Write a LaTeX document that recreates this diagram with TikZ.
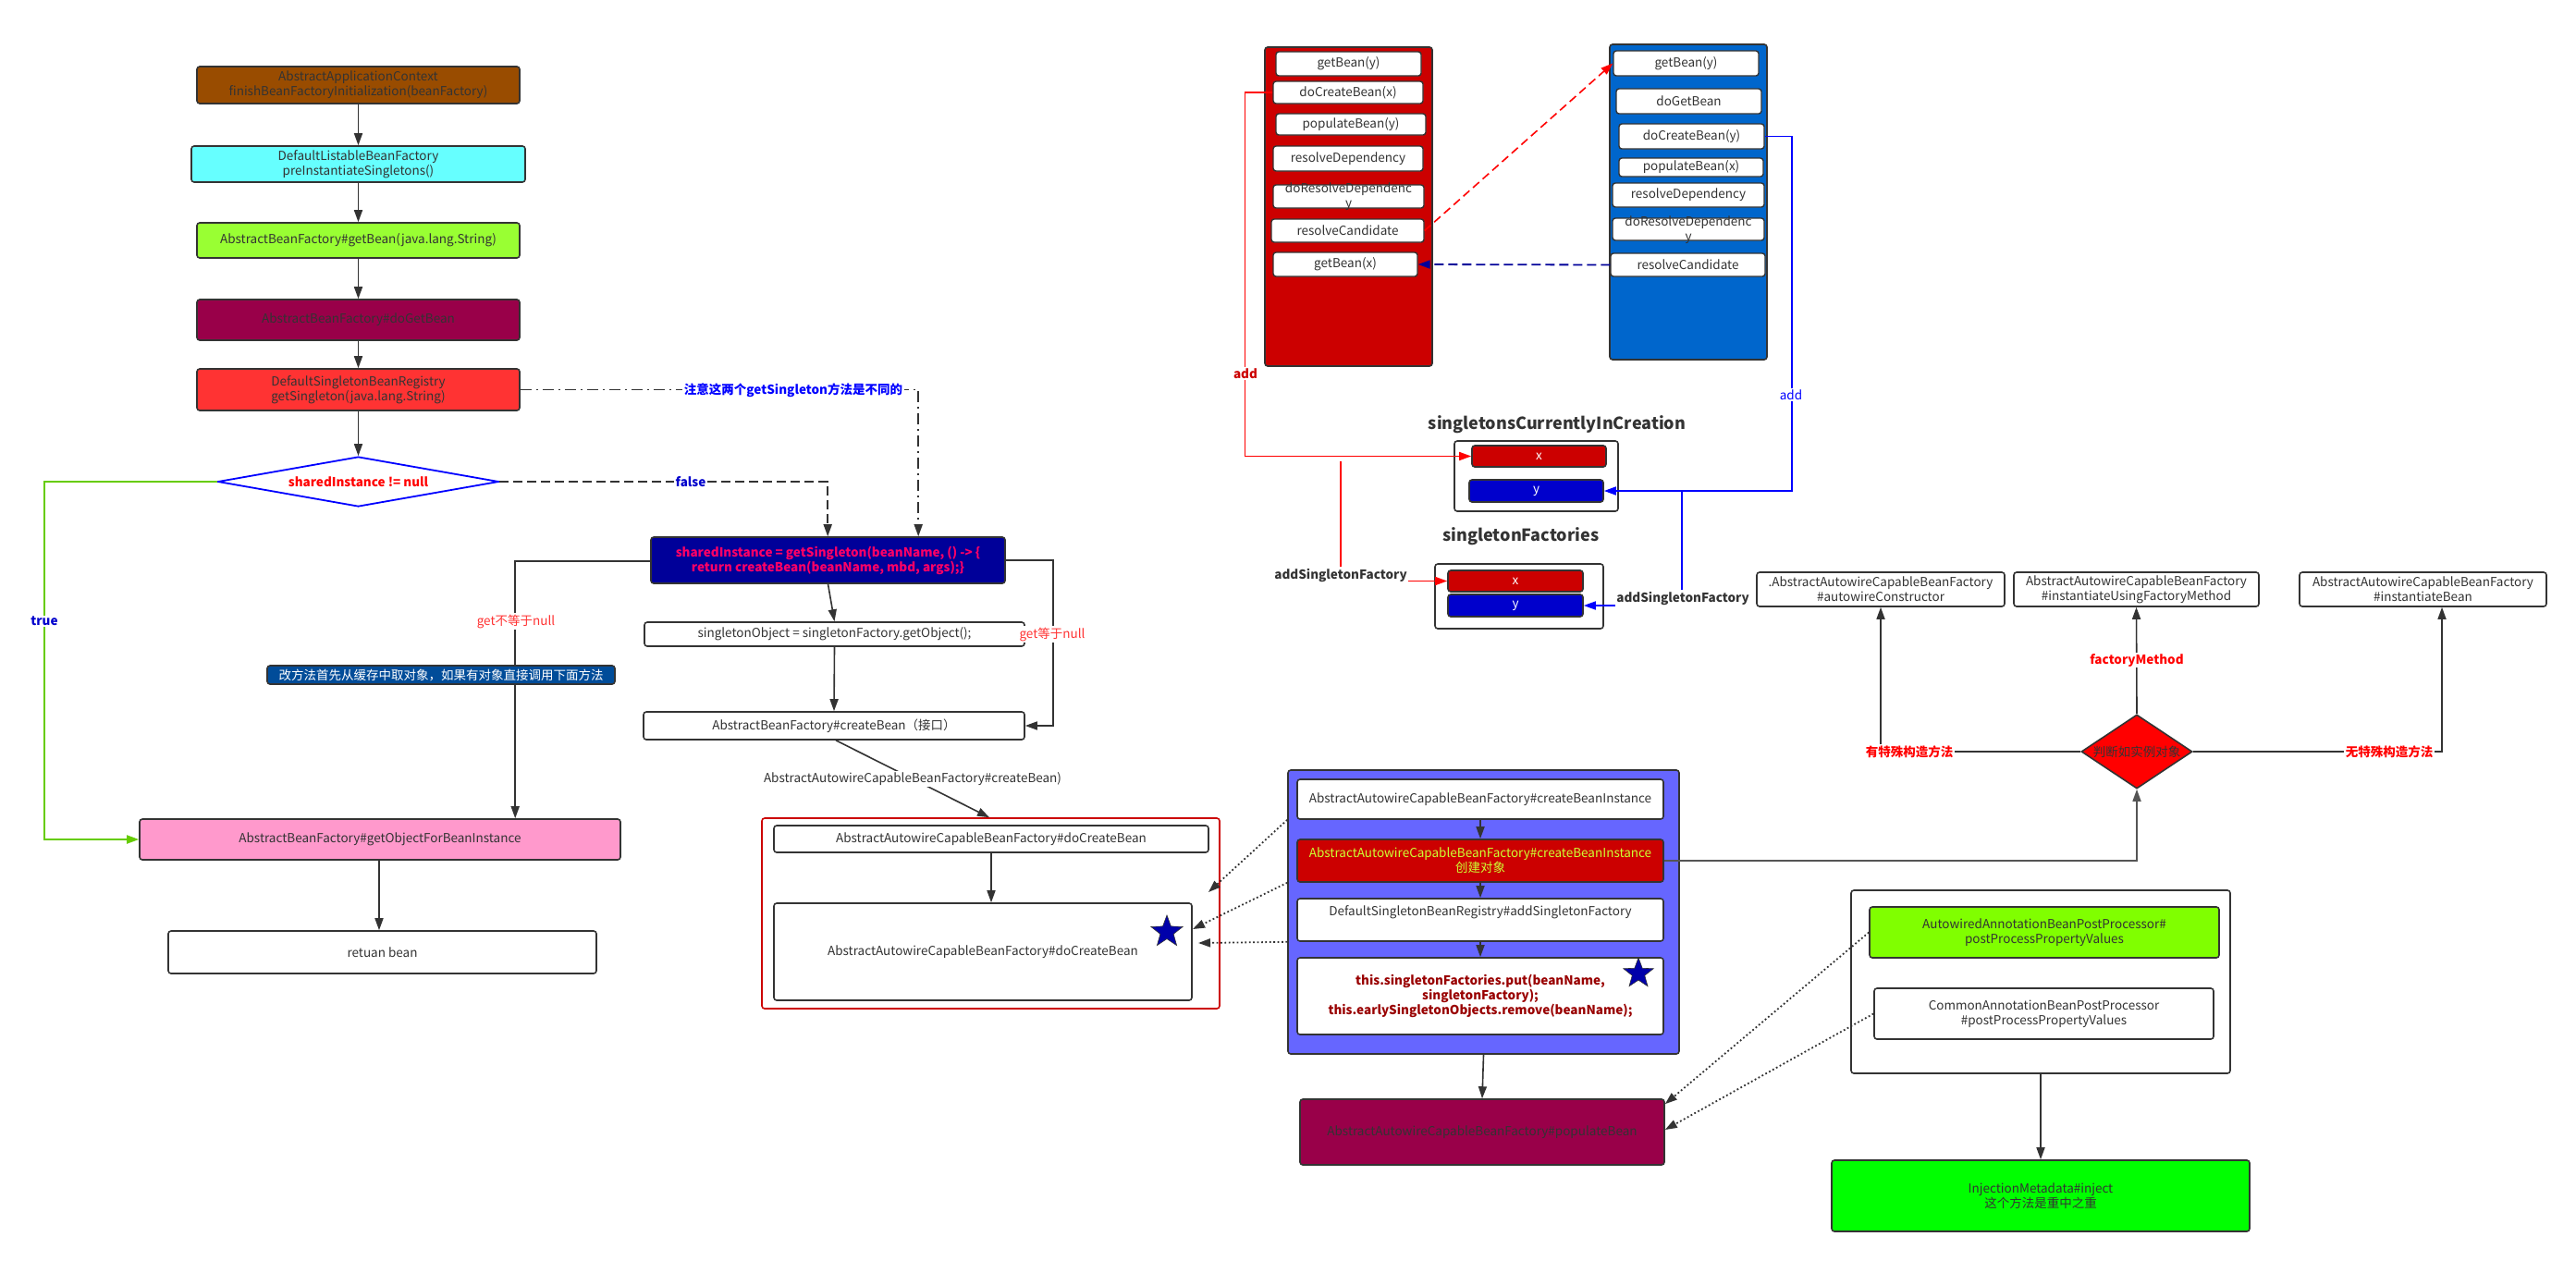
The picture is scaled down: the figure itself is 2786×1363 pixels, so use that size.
\documentclass[tikz,border=0pt]{standalone}
\usepackage{fontspec}
\setmainfont{Noto Sans CJK SC}
\usetikzlibrary{arrows.meta,shapes.geometric}
\definecolor{bd}{HTML}{333333}
\definecolor{cA1}{HTML}{994C00}
\definecolor{cA2}{HTML}{66FFFF}
\definecolor{cA3}{HTML}{99FF33}
\definecolor{cMar}{HTML}{990049}
\definecolor{cA5}{HTML}{FF3333}
\definecolor{cB1}{HTML}{000099}
\definecolor{cPT}{HTML}{FF0066}
\definecolor{cNote}{HTML}{004C99}
\definecolor{cPink}{HTML}{FF99CC}
\definecolor{cRed}{HTML}{CC0000}
\definecolor{cBC}{HTML}{6666FF}
\definecolor{cC2t}{HTML}{CCFF33}
\definecolor{cC4t}{HTML}{990000}
\definecolor{cAW}{HTML}{80FF00}
\definecolor{cIM}{HTML}{00FF00}
\definecolor{cD2}{HTML}{FF0000}
\definecolor{cBS}{HTML}{0066CC}
\definecolor{cY}{HTML}{0000CC}
\definecolor{cGreen}{HTML}{66CC00}
\definecolor{cDB}{HTML}{0000FF}
\definecolor{cLR}{HTML}{FF0000}
\definecolor{cStar}{HTML}{0000AA}
\definecolor{cNavy}{HTML}{000099}
\definecolor{cGrey}{HTML}{555555}
\newcommand{\fsn}{\fontsize{13.5}{16}\selectfont}
\newcommand{\fsb}{\fontsize{13.5}{16}\selectfont\bfseries}
\newcommand{\fst}{\fontsize{18}{22}\selectfont\bfseries}
\tikzset{
  box/.style={draw=bd, line width=1.6pt, rounded corners=3pt, inner sep=0pt, align=center, font=\fsn, text=bd},
  txt/.style={inner sep=0pt, align=center, font=\fsn, text=bd},
  lbl/.style={inner sep=1.5pt, fill=white, align=center, font=\fsb},
  arr/.style={draw=bd, line width=1.6pt, -{Triangle[length=13pt,width=9pt]}},
  dotarr/.style={draw=bd, line width=1.8pt, dash pattern=on 1.8pt off 2.6pt, -{Triangle[length=13pt,width=9pt]}},
  starnode/.style={star, star points=5, star point ratio=2.4, fill=cStar, draw=bd, line width=0.6pt, minimum size=36pt, inner sep=0pt},
}
\begin{document}
\begin{tikzpicture}[x=1pt,y=-1pt]
\useasboundingbox (0,0) rectangle (2786,1363);
\fill[white] (0,0) rectangle (2786,1363);

% ---------------- left column ----------------
\node[box, fill=cA1, minimum width=349pt, minimum height=40pt] (A1) at (387.5,92) {AbstractApplicationContext\\finishBeanFactoryInitialization(beanFactory)};
\node[box, fill=cA2, minimum width=361pt, minimum height=39pt] (A2) at (387.5,177.5) {DefaultListableBeanFactory\\preInstantiateSingletons()};
\node[box, fill=cA3, minimum width=349pt, minimum height=38pt] (A3) at (387.5,260) {AbstractBeanFactory\#getBean(java.lang.String)};
\node[box, fill=cMar, minimum width=349pt, minimum height=44pt] (A4) at (387.5,346) {AbstractBeanFactory\#doGetBean};
\node[box, fill=cA5, minimum width=349pt, minimum height=45pt] (A5) at (387.5,421.5) {DefaultSingletonBeanRegistry\\getSingleton(java.lang.String)};
\node[diamond, draw=cDB, line width=1.8pt, fill=white, aspect=5.6, minimum width=304pt, minimum height=54pt, inner sep=0pt] (D1) at (387.5,521) {};
\node[txt, font=\fsb, text=cLR] (D1t) at (D1) {sharedInstance != null};

\node[box, fill=cB1, text=cPT, font=\fsb, minimum width=383pt, minimum height=50pt] (B1) at (895.5,606) {sharedInstance = getSingleton(beanName, () -> \{\\return createBean(beanName, mbd, args);\}};
\node[box, fill=cPink, minimum width=520pt, minimum height=44pt] (P) at (411,908) {AbstractBeanFactory\#getObjectForBeanInstance};
\node[box, fill=white, minimum width=463pt, minimum height=46pt] (RB) at (413.5,1030) {retuan bean};
\node[box, fill=white, minimum width=411pt, minimum height=26pt] (S1) at (902.5,686) {singletonObject = singletonFactory.getObject();};
\node[box, fill=white, minimum width=412pt, minimum height=30pt] (CB) at (902,785) {AbstractBeanFactory\#createBean（接口）};

\node[box, draw=cRed, line width=1.6pt, fill=white, minimum width=495pt, minimum height=206pt] (R) at (1071.5,988) {};
\node[box, fill=white, minimum width=470pt, minimum height=29pt] (DC1) at (1072,907.5) {AbstractAutowireCapableBeanFactory\#doCreateBean};
\node[box, fill=white, minimum width=452pt, minimum height=105pt] (DC2) at (1063,1029.5) {AbstractAutowireCapableBeanFactory\#doCreateBean};
\node[starnode] (ST1) at (1262,1008) {};

% left connectors
\draw[arr] (A1) -- (A2);
\draw[arr] (A2) -- (A3);
\draw[arr] (A3) -- (A4);
\draw[arr] (A4) -- (A5);
\draw[arr] (A5) -- (D1.north);
\draw[draw=cGreen, line width=1.8pt, -{Triangle[length=13pt,width=9pt]}] (D1.west) -- (48,521) |- (P.west);
\node[lbl, text=cY] (Ltrue) at (48,672) {true};
\draw[draw=bd, line width=1.6pt, dash pattern=on 10pt off 5pt, -{Triangle[length=13pt,width=9pt]}] (D1.east) -| ([xshift=192pt]B1.north west);
\node[lbl, text=cY] (Lfalse) at (747,521) {false};
\draw[draw=bd, line width=1.6pt, dash pattern=on 12pt off 5pt on 2pt off 5pt, -{Triangle[length=13pt,width=9pt]}] (A5.east) -| ([xshift=290pt]B1.north west);
\node[lbl, text=cDB] (Lnote) at (858,422) {注意这两个getSingleton方法是不同的};
\draw[arr] ([yshift=-1pt]B1.west) -| ([xshift=407pt]P.north west);
\node[lbl, font=\fsn, text=cA5] (Lneq) at (558,672) {get不等于null};
\node[box, fill=cNote, text=white, minimum width=376pt, minimum height=20pt] (N1) at (477,730) {改方法首先从缓存中取对象，如果有对象直接调用下面方法};
\draw[arr] (B1.east) -- ++(51,0) |- (CB.east);
\node[lbl, font=\fsn, text=cA5] (Leq) at (1138,686) {get等于null};
\draw[arr] (B1.south) -- (S1.north);
\draw[arr] (S1.south) -- (CB.north);
\draw[arr] ([xshift=2pt]CB.south) -- ([xshift=-1.5pt]R.north) node[midway, lbl, font=\fsn, text=bd] (Lcb) {AbstractAutowireCapableBeanFactory\#createBean)};
\draw[arr] (DC1.south) -- (DC1.south |- DC2.north);
\draw[arr] ([xshift=-1pt]P.south) -- ([xshift=-1pt]P.south |- RB.north);

% ---------------- middle column ----------------
\node[box, fill=cBC, minimum width=423pt, minimum height=307pt] (BC) at (1604.5,986.5) {};
\node[box, fill=white, minimum width=396pt, minimum height=43pt] (C1) at (1601,864.5) {AbstractAutowireCapableBeanFactory\#createBeanInstance};
\node[box, fill=cRed, text=cC2t, minimum width=396pt, minimum height=46pt] (C2) at (1601,931) {AbstractAutowireCapableBeanFactory\#createBeanInstance\\创建对象};
\node[box, fill=white, minimum width=396pt, minimum height=46pt] (C3) at (1601,995) {};
\node[txt] (C3t) at (1601,987) {DefaultSingletonBeanRegistry\#addSingletonFactory};
\node[box, fill=white, text=cC4t, font=\fsb, minimum width=396pt, minimum height=83pt] (C4) at (1601,1077.5) {this.singletonFactories.put(beanName,\\singletonFactory);\\this.earlySingletonObjects.remove(beanName);};
\node[starnode, minimum size=34pt] (ST2) at (1772,1053) {};
\draw[arr] (C1.south) -- (C2.north);
\draw[arr] (C2.south) -- (C3.north);
\draw[arr] (C3.south) -- (C4.north);
\node[box, fill=cMar, minimum width=394pt, minimum height=71pt] (PB) at (1603,1224.5) {AbstractAutowireCapableBeanFactory\#populateBean};
\draw[arr] (BC.south) -- (PB.north);

\coordinate (T1) at (1307,965);
\coordinate (T2) at (1290,1005);
\coordinate (T3) at (1296,1020);
\draw[dotarr] (BC.west |- C1.south) -- (T1);
\draw[dotarr] (BC.west |- C2.south) -- (T2);
\draw[dotarr] (BC.west |- C3.south) -- (T3);

% ---------------- right-bottom ----------------
\node[box, fill=white, minimum width=410pt, minimum height=198pt] (W) at (2207,1062) {};
\node[box, fill=cAW, minimum width=378pt, minimum height=55pt] (AW) at (2211,1008.5) {AutowiredAnnotationBeanPostProcessor\#\\postProcessPropertyValues};
\node[box, fill=white, minimum width=367pt, minimum height=55pt] (CA) at (2210.5,1096.5) {CommonAnnotationBeanPostProcessor\\\#postProcessPropertyValues};
\node[box, fill=cIM, minimum width=452pt, minimum height=77pt] (IM) at (2207,1293.5) {InjectionMetadata\#inject\\这个方法是重中之重};
\draw[arr] (W.south) -- (IM.north);
\draw[dotarr] (AW.west) -- ([yshift=-6pt]PB.north east);
\draw[dotarr] (CA.west) -- ([yshift=2.5pt]PB.east);

% ---------------- right-middle: instantiation ----------------
\node[box, fill=white, minimum width=268pt, minimum height=37pt] (AC1) at (2034,637.5) {.AbstractAutowireCapableBeanFactory\\\#autowireConstructor};
\node[box, fill=white, minimum width=265pt, minimum height=37pt] (AC2) at (2310.5,637.5) {AbstractAutowireCapableBeanFactory\\\#instantiateUsingFactoryMethod};
\node[box, fill=white, minimum width=267pt, minimum height=37pt] (AC3) at (2620.5,637.5) {AbstractAutowireCapableBeanFactory\\\#instantiateBean};
\node[diamond, draw=bd, line width=1.6pt, fill=cD2, minimum width=120pt, minimum height=80pt, inner sep=0pt] (D2) at (2311,813) {};
\node[txt, text=bd] (D2t) at (D2) {判断如实例对象};
\draw[arr, draw=cGrey] (C2.east) -| (D2.south);
\draw[arr] (D2.west) -| (AC1.south);
\draw[arr] (D2.north) -- (AC2.south);
\draw[arr] (D2.east) -| ([xshift=20.5pt]AC3.south);
\node[lbl, text=cLR] (Lyou) at (2065,813) {有特殊构造方法};
\node[lbl, text=cLR] (Lfm) at (2311,714) {factoryMethod};
\node[lbl, text=cLR] (Lwu) at (2584,813) {无特殊构造方法};

% ---------------- top-right: call stacks ----------------
\tikzset{sitem/.style={box, fill=white, line width=1.4pt}}
\node[box, fill=cRed, minimum width=181pt, minimum height=345pt] (RS) at (1458.5,223.5) {};
\node[sitem, minimum width=157pt, minimum height=26pt] (r1) at (1458.5,69) {getBean(y)};
\node[sitem, minimum width=162pt, minimum height=24pt] (r2) at (1458,100) {doCreateBean(x)};
\node[sitem, minimum width=162pt, minimum height=23pt] (r3) at (1461,134.5) {populateBean(y)};
\node[sitem, minimum width=162pt, minimum height=27pt] (r4) at (1458,171.5) {resolveDependency};
\node[sitem, minimum width=163pt, minimum height=25pt] (r5) at (1458.5,212.5) {};
\node[txt] (r5t) at (1458.5,213) {doResolveDependenc\\y};
\node[sitem, minimum width=165pt, minimum height=25pt] (r6) at (1457.5,249.5) {resolveCandidate};
\node[sitem, minimum width=156pt, minimum height=26pt] (r7) at (1455,286) {getBean(x)};

\node[box, fill=cBS, minimum width=170pt, minimum height=341pt] (BS) at (1826,218.5) {};
\node[sitem, minimum width=157pt, minimum height=27pt] (b1) at (1823.5,68.5) {getBean(y)};
\node[sitem, minimum width=157pt, minimum height=27pt] (b2) at (1826.5,109.5) {doGetBean};
\node[sitem, minimum width=157pt, minimum height=27pt] (b3) at (1829.5,147.5) {doCreateBean(y)};
\node[sitem, minimum width=156pt, minimum height=20pt] (b4) at (1829,181) {populateBean(x)};
\node[sitem, minimum width=164pt, minimum height=26pt] (b5) at (1826,211) {resolveDependency};
\node[sitem, minimum width=164pt, minimum height=24pt] (b6) at (1826,248) {};
\node[txt] (b6t) at (1826,249) {doResolveDependenc\\y};
\node[sitem, minimum width=167pt, minimum height=25pt] (b7) at (1825.5,286.5) {resolveCandidate};

\draw[draw=cLR, line width=1.6pt, dash pattern=on 9pt off 5pt, -{Triangle[length=13pt,width=9pt]}] (r6.east) -- (b1.west);
\draw[draw=cNavy, line width=1.8pt, dash pattern=on 10pt off 5pt, -{Triangle[length=13pt,width=9pt]}] (b7.west) -- (r7.east);

% sets
\node[txt, font=\fst] (T1t) at (1684,459) {singletonsCurrentlyInCreation};
\node[box, fill=white, minimum width=177pt, minimum height=76pt] (SC) at (1661.5,515) {};
\node[box, fill=cRed, text=white, minimum width=145pt, minimum height=23pt] (scx) at (1664.5,493.5) {x};
\node[box, fill=cY, text=white, minimum width=145pt, minimum height=24pt] (scy) at (1661.5,531) {y};
\node[txt, font=\fst] (T2t) at (1645,580) {singletonFactories};
\node[box, fill=white, minimum width=182pt, minimum height=70pt] (SF) at (1643,645) {};
\node[box, fill=cRed, text=white, minimum width=146pt, minimum height=23pt] (sfx) at (1639,628.5) {x};
\node[box, fill=cY, text=white, minimum width=146pt, minimum height=24pt] (sfy) at (1639,655) {y};

\draw[draw=cLR, line width=1.6pt, -{Triangle[length=13pt,width=9pt]}] (r2.west) -- ++(-30,0) |- (scx.west);
\node[lbl, text=cRed] (Ladd1) at (1347,404) {add};
\draw[draw=cDB, line width=1.6pt, -{Triangle[length=13pt,width=9pt]}] (b3.east) -- ++(29,0) |- (scy.east);
\node[lbl, font=\fsn, text=cDB] (Ladd2) at (1937,427) {add};
\coordinate (RJ) at (1450,499);
\draw[draw=cLR, line width=1.6pt, -{Triangle[length=13pt,width=9pt]}] (RJ) |- (sfx.west);
\node[lbl, text=bd] (Lasf1) at (1450,622) {addSingletonFactory};
\coordinate (BJ) at (1819,531);
\draw[draw=cDB, line width=1.6pt, -{Triangle[length=13pt,width=9pt]}] (BJ) |- (sfy.east);
\node[lbl, text=bd] (Lasf2) at (1820,647) {addSingletonFactory};
\end{tikzpicture}
\end{document}
